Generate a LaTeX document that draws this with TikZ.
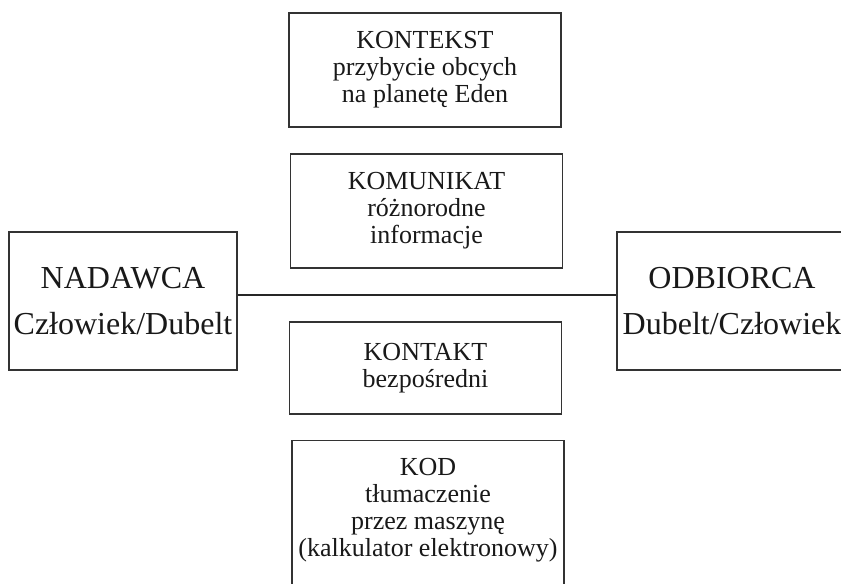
\documentclass[tikz,border=0pt]{standalone}
\usepackage{fontspec}
\setmainfont{Liberation Serif}
\begin{document}
\begin{tikzpicture}[x=0.75pt,y=-0.75pt,
  frame/.style={draw=black!80, line width=0.9pt, inner sep=0pt, align=center, text=black!90},
  midbox/.style={frame, minimum width=204pt, font=\fontsize{19.5}{20.3}\selectfont},
  sidebox/.style={frame, minimum width=171pt, minimum height=103.5pt, font=\fontsize{24}{34}\selectfont},
  midtext/.style={inner sep=0pt, align=center, text=black!90, font=\fontsize{19.5}{20.3}\selectfont},
  link/.style={draw=black!85, line width=1pt}]
\clip (0,0) rectangle (841,583);
\fill[white] (0,0) rectangle (841,583);
% middle column
\node[midbox, minimum height=85.5pt] (ctx) at (425,70) {KONTEKST\\przybycie obcych\\na planetę Eden};
\node[midbox, minimum height=85.5pt] (msg) at (426.5,211) {KOMUNIKAT\\różnorodne\\informacje};
\node[midbox, minimum height=69pt] (cnt) at (425.5,368) {KONTAKT\\bezpośredni};
\node[midbox, minimum height=119pt] (code) at (428,520) {};
\node[midtext] (codetxt) at (428,510) {KOD\\tłumaczenie\\przez maszynę\\(kalkulator elektronowy)};
% sender and receiver
\node[sidebox] (snd) at (123,301) {NADAWCA\\Człowiek/Dubelt};
\node[sidebox, minimum width=172.5pt] (rcv) at (732,301) {ODBIORCA\\Dubelt/Człowiek};
\coordinate (lineY) at (0,295);
\draw[link] (snd.east |- lineY) -- (rcv.west |- lineY);
\end{tikzpicture}
\end{document}
